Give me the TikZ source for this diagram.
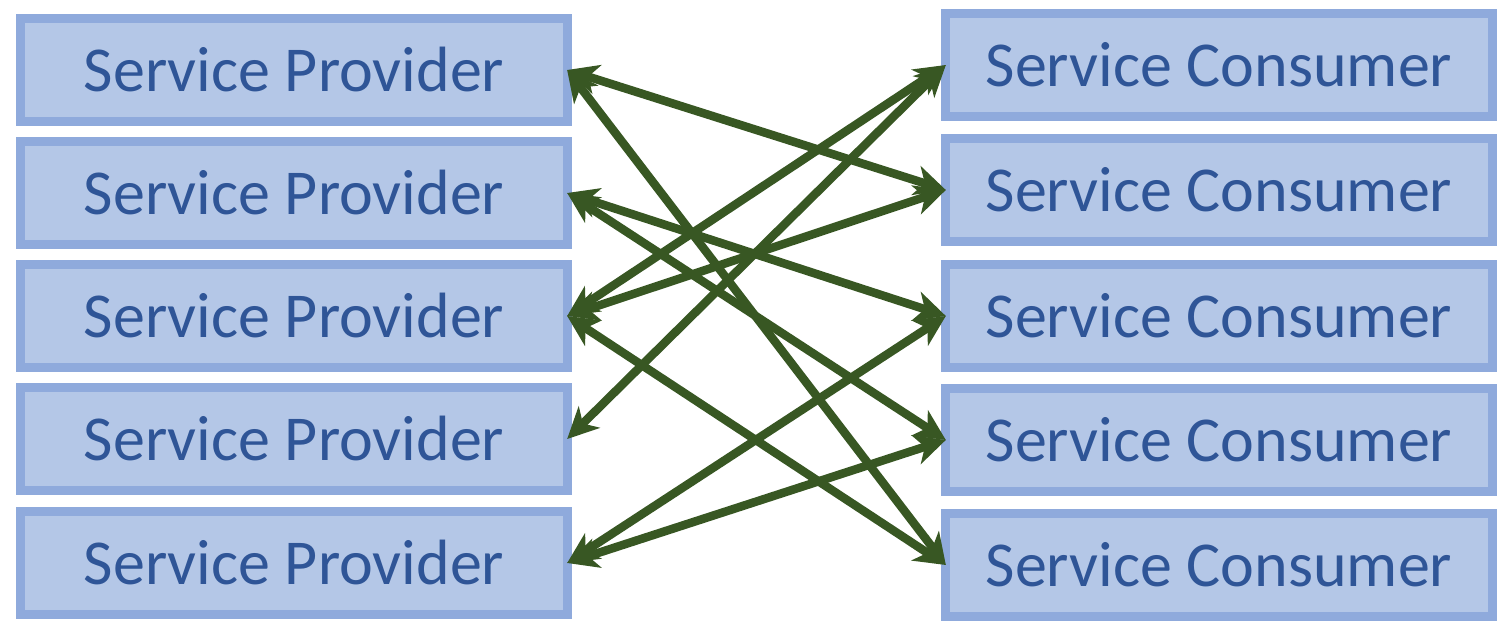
\documentclass[tikz,border=0pt]{standalone}
\usepackage{fontspec}
\setmainfont{Carlito}
\usepackage{xcolor}
\usepackage{tikz}
\usetikzlibrary{positioning,arrows.meta}
\definecolor{boxfill}{HTML}{B4C7E7}
\definecolor{boxline}{HTML}{8FAADC}
\definecolor{boxtext}{HTML}{2F5597}
\definecolor{linkgreen}{HTML}{385723}

\begin{document}
\begin{tikzpicture}[x=0.01cm,y=-0.01cm,
  svcbox/.style={draw=boxline, fill=boxfill, line width=0.09cm, minimum width=5.46cm,
    minimum height=1.02cm, inner sep=0pt, outer sep=0pt, text=boxtext, font=\fontsize{18.2}{20}\selectfont},
  link/.style={draw=linkgreen, line width=0.085cm,
    {Stealth[length=0.31cm,width=0.3cm,inset=0.09cm]}-{Stealth[length=0.31cm,width=0.3cm,inset=0.09cm]}}]
  \useasboundingbox (0,0) rectangle (1508,634);
  \foreach \i/\y in {1/70,2/193,3/316,4/439,5/563}
    \node[svcbox] (p\i) at (294,\y) {Service Provider};
  \foreach \i/\y in {1/65,2/190,3/316,4/440,5/565}
    \node[svcbox] (c\i) at (1219,\y) {Service Consumer};
  \foreach \a/\b in {1/2,1/5,2/3,2/4,3/1,3/2,3/5,4/1,5/3,5/4}
    \draw[link] (p\a.east) -- (c\b.west);
\end{tikzpicture}
\end{document}
